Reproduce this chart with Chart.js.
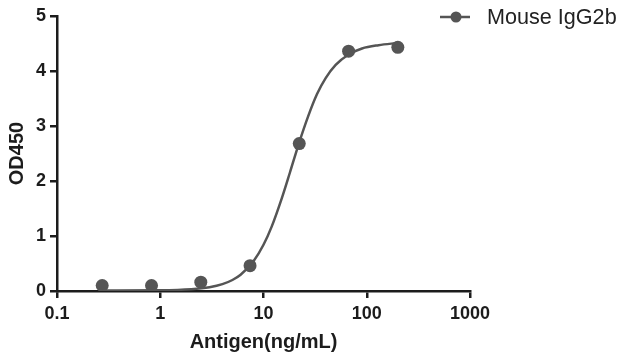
<!DOCTYPE html>
<html>
<head>
<meta charset="utf-8">
<script src="https://cdn.jsdelivr.net/npm/chart.js@4/dist/chart.umd.min.js"></script>
<style>
  html, body { margin: 0; padding: 0; background: #fff; }
  #wrap { width: 627px; height: 360px; position: relative; }
</style>
</head>
<body>
<div id="wrap"><canvas id="c" width="627" height="360"></canvas></div>
<script>
// Measured data (antigen concentration in ng/mL vs OD450)
const seriesName = "Mouse IgG2b";
const concentrations = [0.274, 0.823, 2.47, 7.41, 22.2, 66.7, 200];
const od450 = [0.10, 0.10, 0.16, 0.46, 2.68, 4.36, 4.43];

const curveX = [0.274, 1, 2, 3, 4, 5, 6, 8, 10, 12, 15, 18, 22, 27, 33, 40, 50, 66.7, 90, 130, 200];
const curveY = [0.01, 0.014, 0.033, 0.069, 0.124, 0.20, 0.295, 0.54, 0.84, 1.17, 1.68, 2.15, 2.68, 3.17, 3.58, 3.87, 4.11, 4.30, 4.41, 4.47, 4.51];

// Axis ticks
const xTicks = [0.1, 1, 10, 100, 1000];
const xTickLabels = ["0.1", "1", "10", "100", "1000"];
const yTicks = [0, 1, 2, 3, 4, 5];
const xTitle = "Antigen(ng/mL)";
const yTitle = "OD450";

const ink = "#1c1c1c";
const markColor = "#555555";
const fontFamily = "'Liberation Sans', Arial, sans-serif";

const legendPlugin = {
  id: 'customLegend',
  afterDraw(chart) {
    const ctx = chart.ctx;
    ctx.save();
    const y = 17;
    ctx.strokeStyle = markColor;
    ctx.lineWidth = 2.5;
    ctx.beginPath();
    ctx.moveTo(440, y);
    ctx.lineTo(470, y);
    ctx.stroke();
    ctx.fillStyle = markColor;
    ctx.beginPath();
    ctx.arc(456, y, 5.5, 0, Math.PI * 2);
    ctx.fill();
    ctx.fillStyle = "#222";
    ctx.font = "21.6px " + fontFamily;
    ctx.textBaseline = "middle";
    ctx.textAlign = "left";
    ctx.fillText(seriesName, 487, y + 1);
    ctx.restore();
  }
};

new Chart(document.getElementById('c'), {
  type: 'line',
  data: {
    datasets: [
      {
        label: seriesName + " fit",
        data: curveX.map((x, i) => ({ x: x, y: curveY[i] })),
        borderColor: markColor,
        borderWidth: 2.5,
        pointRadius: 0,
        cubicInterpolationMode: 'monotone',
        fill: false
      },
      {
        label: seriesName,
        data: concentrations.map((x, i) => ({ x: x, y: od450[i] })),
        showLine: false,
        pointRadius: 6.5,
        pointHoverRadius: 6.5,
        pointBackgroundColor: markColor,
        pointBorderWidth: 0,
        borderColor: markColor
      }
    ]
  },
  options: {
    responsive: false,
    animation: false,
    events: [],
    layout: { padding: { left: 0, right: 157, top: 16, bottom: 0 } },
    plugins: {
      legend: { display: false },
      tooltip: { enabled: false }
    },
    scales: {
      x: {
        type: 'logarithmic',
        min: 0.1,
        max: 1000,
        afterBuildTicks(scale) { scale.ticks = xTicks.map(v => ({ value: v })); },
        afterFit(scale) { scale.height = 360 - 291; },
        ticks: {
          autoSkip: false,
          maxRotation: 0,
          padding: 5,
          color: ink,
          font: { family: fontFamily, size: 18, weight: 'bold' },
          callback(value) {
            const i = xTicks.indexOf(value);
            return i >= 0 ? xTickLabels[i] : '';
          }
        },
        grid: { display: true, drawOnChartArea: false, drawTicks: true, tickLength: 7, color: ink, lineWidth: 2.5 },
        border: { display: true, color: ink, width: 2.5 },
        title: {
          display: true,
          text: xTitle,
          color: ink,
          font: { family: fontFamily, size: 20, weight: 'bold' },
          padding: { top: 0, bottom: 6 }
        }
      },
      y: {
        min: 0,
        max: 5,
        afterBuildTicks(scale) { scale.ticks = yTicks.map(v => ({ value: v })); },
        afterFit(scale) { scale.width = 57; },
        ticks: {
          padding: 4,
          color: ink,
          font: { family: fontFamily, size: 18, weight: 'bold' }
        },
        grid: { display: true, drawOnChartArea: false, drawTicks: true, tickLength: 7, color: ink, lineWidth: 2.5 },
        border: { display: true, color: ink, width: 2.5 },
        title: {
          display: true,
          text: yTitle,
          color: ink,
          font: { family: fontFamily, size: 20, weight: 'bold' },
          padding: { top: 5, bottom: 0 }
        }
      }
    }
  },
  plugins: [legendPlugin]
});
</script>
</body>
</html>
